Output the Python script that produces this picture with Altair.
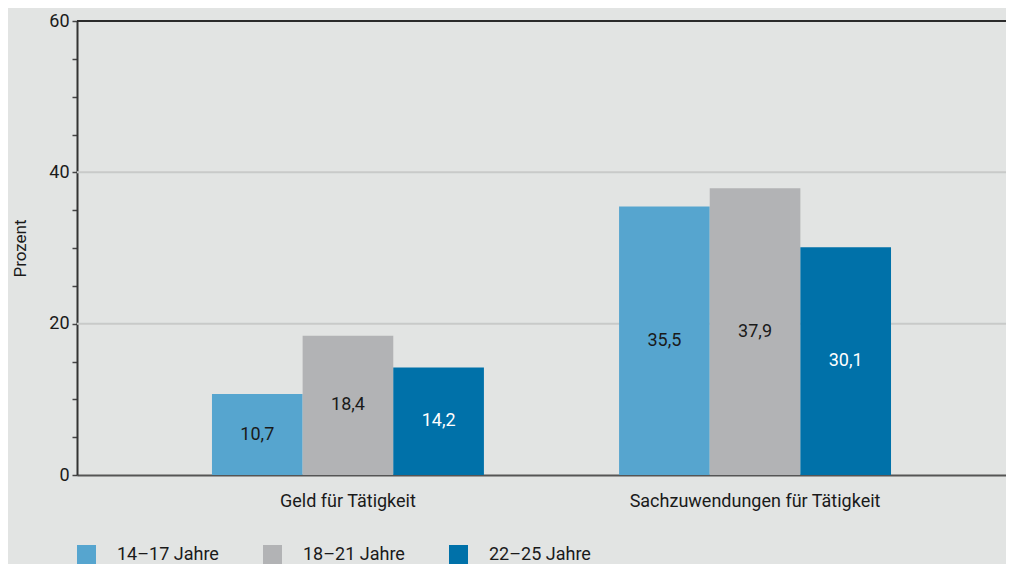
import altair as alt
import pandas as pd

categories = ["Geld für Tätigkeit", "Sachzuwendungen für Tätigkeit"]
groups = ["14–17 Jahre", "18–21 Jahre", "22–25 Jahre"]
values_geld = [10.7, 18.4, 14.2]
values_sach = [35.5, 37.9, 30.1]
colors = ["#56a5cf", "#b2b3b5", "#0071a9"]
grid_values = [20, 40]
top_value = [60]
tick_values = [0, 5, 10, 15, 20, 25, 30, 35, 40, 45, 50, 55, 60]

rows = []
for c, vals in zip(categories, [values_geld, values_sach]):
    for g, v in zip(groups, vals):
        rows.append({"cat": c, "group": g, "v": v})
df = pd.DataFrame(rows)

FONT = "Roboto"
FS = 18
BG = "#e2e4e3"

xscale = alt.Scale(domain=categories, paddingInner=0.332, paddingOuter=0.307, align=0.54)
yscale = alt.Scale(domain=[0, 60], nice=False)
offscale = alt.Scale(domain=groups, paddingInner=0, paddingOuter=0)

yaxis = alt.Axis(title="Prozent", values=tick_values, grid=False,
                 labelExpr="datum.value % 20 === 0 ? datum.label : ''",
                 tickSize=5, tickColor="#444444", tickWidth=1.5,
                 domainColor="#333333", domainWidth=2,
                 labelFont=FONT, labelFontSize=FS, labelColor="#1a1a1a",
                 labelPadding=3, titleFont=FONT, titleFontSize=17,
                 titleFontWeight="normal", titleColor="#1a1a1a",
                 titlePadding=19)
xaxis = alt.Axis(title=None, labelAngle=0, ticks=False, domainColor="#555555",
                 domainWidth=2, labelFont=FONT, labelFontSize=FS,
                 labelColor="#1a1a1a", labelPadding=17, labelLimit=500)

grid = alt.Chart(pd.DataFrame({"y": grid_values})).mark_rule(
    color="#c8cac9", strokeWidth=2
).encode(y=alt.Y("y:Q", scale=yscale, axis=yaxis))

bars = alt.Chart(df).mark_bar(stroke=None).encode(
    x=alt.X("cat:N", scale=xscale, sort=categories, axis=xaxis),
    xOffset=alt.XOffset("group:N", scale=offscale, sort=groups),
    y=alt.Y("v:Q", scale=yscale, axis=yaxis),
    color=alt.Color("group:N", scale=alt.Scale(domain=groups, range=colors),
                    legend=alt.Legend(title=None, orient="none", direction="horizontal",
                                      legendX=0, legendY=524, symbolType="square",
                                      symbolSize=361, symbolStrokeWidth=0,
                                      labelFont=FONT, labelFontSize=FS,
                                      labelColor="#1a1a1a", labelOffset=21,
                                      columnPadding=44)),
)

text = alt.Chart(df).transform_calculate(
    mid="datum.v / 2",
    label="replace(format(datum.v, '.1f'), '.', ',')",
).mark_text(font=FONT, fontSize=FS, align="center", baseline="middle").encode(
    x=alt.X("cat:N", scale=xscale, sort=categories, axis=xaxis),
    xOffset=alt.XOffset("group:N", scale=offscale, sort=groups),
    y=alt.Y("mid:Q", scale=yscale, axis=yaxis),
    text="label:N",
    color=alt.condition(alt.datum.group == groups[2], alt.value("white"), alt.value("#1a1a1a")),
)

top = alt.Chart(pd.DataFrame({"y": top_value})).mark_rule(
    color="#2b2b2b", strokeWidth=2
).encode(y=alt.Y("y:Q", scale=yscale, axis=yaxis))

chart = alt.layer(grid, bars, text, top).properties(
    width=929, height=454,
    autosize=alt.AutoSizeParams(type="none"),
    padding={"left": 69, "top": 13, "right": 0, "bottom": 89},
    background=BG,
).configure_view(stroke=None)

chart.save("out.html", embed_options={"renderer": "svg", "actions": False})
